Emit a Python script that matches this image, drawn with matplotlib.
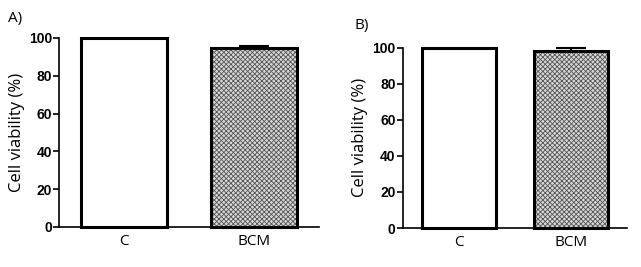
import matplotlib
matplotlib.use('Agg')
import matplotlib.pyplot as plt
import numpy as np

# Cell viability data
groups = ['C', 'BCM']
viability_a = [100, 94.8]
err_a = [0, 0.9]
viability_b = [100, 98.2]
err_b = [0, 1.8]
yticks = [0, 20, 40, 60, 80, 100]

plt.rcParams['hatch.linewidth'] = 0.6

fig = plt.figure(figsize=(6.41, 2.67), dpi=100)
ax_a = fig.add_axes([0.092, 0.150, 0.405, 0.708])
ax_b = fig.add_axes([0.628, 0.146, 0.350, 0.675])


def draw_panel(ax, vals, errs):
    x = np.arange(len(groups))
    width = 0.66
    # white control bar
    ax.bar(x[0], vals[0], width, color='white', edgecolor='black', linewidth=2.2, zorder=2)
    # patterned treatment bar: hatch drawn first, outline on top
    ax.bar(x[1], vals[1], width, color='#d8d8d8', edgecolor='#555555', hatch='xxxxxxx',
           linewidth=0, zorder=2)
    ax.bar(x[1], vals[1], width, color='none', edgecolor='black', linewidth=2.2, zorder=3)
    ax.errorbar(x[1], vals[1], yerr=[[0], [errs[1]]], fmt='none', ecolor='black',
                elinewidth=1.5, capsize=11, capthick=1.5, zorder=4, clip_on=False)
    ax.set_xlim(-0.5, 1.5)
    ax.set_ylim(0, 100)
    ax.set_yticks(yticks)
    ax.set_xticks(x)
    ax.set_xticklabels(groups, fontsize=11, family='Open Sans')
    ax.tick_params(axis='x', length=0, pad=5)
    ax.tick_params(axis='y', length=4, width=1.2, direction='out', pad=1)
    for lab in ax.get_yticklabels():
        lab.set_fontweight('bold')
        lab.set_family('Liberation Sans')
        lab.set_fontsize(10)
    for s in ['top', 'right']:
        ax.spines[s].set_visible(False)
    for s in ['left', 'bottom']:
        ax.spines[s].set_linewidth(1.2)
    for p in ax.patches:
        p.set_clip_on(False)
    ax.set_ylabel('Cell viability (%)', fontsize=12, family='Open Sans', labelpad=3)


draw_panel(ax_a, viability_a, err_a)
draw_panel(ax_b, viability_b, err_b)

fig.text(0.012, 0.93, 'A)', fontsize=11, family='Open Sans', va='center')
fig.text(0.553, 0.905, 'B)', fontsize=11, family='Open Sans', va='center')

plt.savefig('out.png', dpi=100)
